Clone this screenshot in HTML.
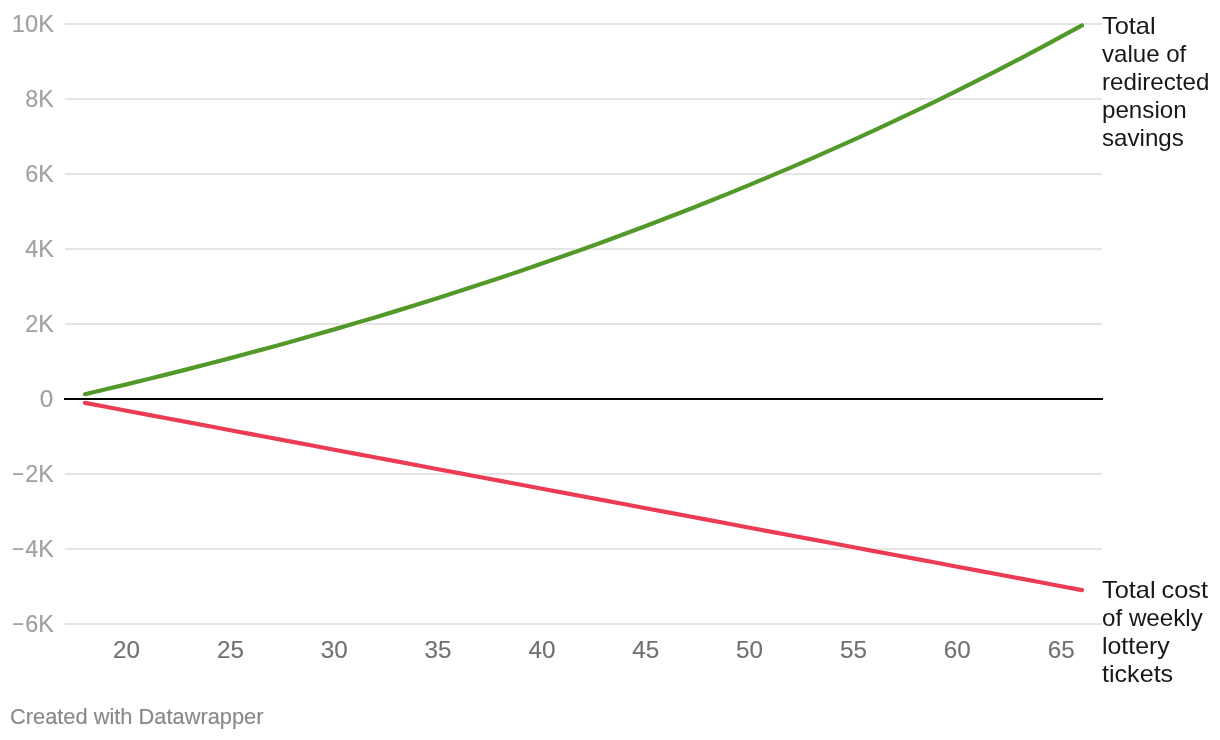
<!DOCTYPE html>
<html lang="en">
<head>
<meta charset="utf-8">
<title>Total value of redirected pension savings vs total cost of weekly lottery tickets</title>
<style>
html,body{margin:0;padding:0;background:#fff;}
body{width:1220px;height:740px;overflow:hidden;font-family:"Liberation Sans",sans-serif;}
svg{display:block;}
text{font-family:"Liberation Sans",sans-serif;font-size:24px;stroke-width:0.14px;}
.yl{fill:#a0a0a0;stroke:#a0a0a0;text-anchor:end;}
.xl{fill:#717171;stroke:#717171;text-anchor:middle;}
.lb{fill:#181818;}
.ft{fill:#888888;stroke:#888888;font-size:22px;}
</style>
</head>
<body>
<svg width="1220" height="740" viewBox="0 0 1220 740">
<rect width="1220" height="740" fill="#ffffff"/>
<g class="grid" stroke="#e4e4e4" stroke-width="2" shape-rendering="crispEdges">
<line x1="65" x2="1102" y1="24" y2="24"/>
<line x1="65" x2="1102" y1="99" y2="99"/>
<line x1="65" x2="1102" y1="174" y2="174"/>
<line x1="65" x2="1102" y1="249" y2="249"/>
<line x1="65" x2="1102" y1="324" y2="324"/>
<line x1="65" x2="1102" y1="474" y2="474"/>
<line x1="65" x2="1102" y1="549" y2="549"/>
<line x1="65" x2="1102" y1="624" y2="624"/>
</g>
<line x1="64" x2="1103" y1="399" y2="399" stroke="#000000" stroke-width="2" shape-rendering="crispEdges"/>
<g class="yaxis">
<text class="yl" x="53.9" y="31.8" textLength="42.05" lengthAdjust="spacingAndGlyphs">10K</text>
<text class="yl" x="53.9" y="106.8" textLength="28.55" lengthAdjust="spacingAndGlyphs">8K</text>
<text class="yl" x="53.9" y="181.8" textLength="28.55" lengthAdjust="spacingAndGlyphs">6K</text>
<text class="yl" x="53.9" y="256.8" textLength="28.55" lengthAdjust="spacingAndGlyphs">4K</text>
<text class="yl" x="53.9" y="331.8" textLength="28.55" lengthAdjust="spacingAndGlyphs">2K</text>
<text class="yl" x="53.2" y="406.8" textLength="13.5" lengthAdjust="spacingAndGlyphs">0</text>
<text class="yl" style="text-anchor:start" y="481.8"><tspan x="12" textLength="12" lengthAdjust="spacingAndGlyphs">−</tspan><tspan x="25.35" textLength="28.55" lengthAdjust="spacingAndGlyphs">2K</tspan></text>
<text class="yl" style="text-anchor:start" y="556.8"><tspan x="12" textLength="12" lengthAdjust="spacingAndGlyphs">−</tspan><tspan x="25.35" textLength="28.55" lengthAdjust="spacingAndGlyphs">4K</tspan></text>
<text class="yl" style="text-anchor:start" y="631.8"><tspan x="12" textLength="12" lengthAdjust="spacingAndGlyphs">−</tspan><tspan x="25.35" textLength="28.55" lengthAdjust="spacingAndGlyphs">6K</tspan></text>
</g>
<g class="xaxis">
<text class="xl" x="126.5" y="658" textLength="26.98" lengthAdjust="spacingAndGlyphs">20</text>
<text class="xl" x="230.4" y="658" textLength="26.98" lengthAdjust="spacingAndGlyphs">25</text>
<text class="xl" x="334.2" y="658" textLength="26.98" lengthAdjust="spacingAndGlyphs">30</text>
<text class="xl" x="438.1" y="658" textLength="26.98" lengthAdjust="spacingAndGlyphs">35</text>
<text class="xl" x="541.9" y="658" textLength="26.98" lengthAdjust="spacingAndGlyphs">40</text>
<text class="xl" x="645.8" y="658" textLength="26.98" lengthAdjust="spacingAndGlyphs">45</text>
<text class="xl" x="749.6" y="658" textLength="26.98" lengthAdjust="spacingAndGlyphs">50</text>
<text class="xl" x="853.5" y="658" textLength="26.98" lengthAdjust="spacingAndGlyphs">55</text>
<text class="xl" x="957.3" y="658" textLength="26.98" lengthAdjust="spacingAndGlyphs">60</text>
<text class="xl" x="1061.2" y="658" textLength="26.98" lengthAdjust="spacingAndGlyphs">65</text>
</g>
<g fill="none" stroke-linecap="round" stroke-linejoin="round">
<polyline points="85.00,402.90 105.77,406.80 126.54,410.70 147.31,414.60 168.08,418.50 188.85,422.40 209.62,426.30 230.39,430.20 251.16,434.10 271.93,438.00 292.70,441.90 313.47,445.80 334.24,449.70 355.01,453.60 375.78,457.50 396.55,461.40 417.32,465.30 438.09,469.20 458.86,473.10 479.63,477.00 500.40,480.90 521.17,484.80 541.94,488.70 562.71,492.60 583.48,496.50 604.25,500.40 625.02,504.30 645.79,508.20 666.56,512.10 687.33,516.00 708.10,519.90 728.87,523.80 749.64,527.70 770.41,531.60 791.18,535.50 811.95,539.40 832.72,543.30 853.49,547.20 874.26,551.10 895.03,555.00 915.80,558.90 936.57,562.80 957.34,566.70 978.11,570.60 998.88,574.50 1019.65,578.40 1040.42,582.30 1061.19,586.20 1081.96,590.10" stroke="#ffffff" stroke-width="5.6"/>
<polyline points="85.00,402.90 105.77,406.80 126.54,410.70 147.31,414.60 168.08,418.50 188.85,422.40 209.62,426.30 230.39,430.20 251.16,434.10 271.93,438.00 292.70,441.90 313.47,445.80 334.24,449.70 355.01,453.60 375.78,457.50 396.55,461.40 417.32,465.30 438.09,469.20 458.86,473.10 479.63,477.00 500.40,480.90 521.17,484.80 541.94,488.70 562.71,492.60 583.48,496.50 604.25,500.40 625.02,504.30 645.79,508.20 666.56,512.10 687.33,516.00 708.10,519.90 728.87,523.80 749.64,527.70 770.41,531.60 791.18,535.50 811.95,539.40 832.72,543.30 853.49,547.20 874.26,551.10 895.03,555.00 915.80,558.90 936.57,562.80 957.34,566.70 978.11,570.60 998.88,574.50 1019.65,578.40 1040.42,582.30 1061.19,586.20 1081.96,590.10" stroke="#ec3b55" stroke-width="4.2"/>
<polyline points="85.00,394.20 105.77,389.32 126.54,384.35 147.31,379.29 168.08,374.13 188.85,368.89 209.62,363.54 230.39,358.10 251.16,352.57 271.93,346.93 292.70,341.19 313.47,335.34 334.24,329.39 355.01,323.33 375.78,317.16 396.55,310.88 417.32,304.48 438.09,297.97 458.86,291.34 479.63,284.59 500.40,277.72 521.17,270.72 541.94,263.60 562.71,256.35 583.48,248.96 604.25,241.44 625.02,233.79 645.79,225.99 666.56,218.06 687.33,209.98 708.10,201.75 728.87,193.37 749.64,184.85 770.41,176.16 791.18,167.32 811.95,158.32 832.72,149.16 853.49,139.83 874.26,130.33 895.03,120.66 915.80,110.81 936.57,100.78 957.34,90.57 978.11,80.18 998.88,69.60 1019.65,58.82 1040.42,47.86 1061.19,36.69 1081.96,25.31" stroke="#ffffff" stroke-width="5.6"/>
<polyline points="85.00,394.20 105.77,389.32 126.54,384.35 147.31,379.29 168.08,374.13 188.85,368.89 209.62,363.54 230.39,358.10 251.16,352.57 271.93,346.93 292.70,341.19 313.47,335.34 334.24,329.39 355.01,323.33 375.78,317.16 396.55,310.88 417.32,304.48 438.09,297.97 458.86,291.34 479.63,284.59 500.40,277.72 521.17,270.72 541.94,263.60 562.71,256.35 583.48,248.96 604.25,241.44 625.02,233.79 645.79,225.99 666.56,218.06 687.33,209.98 708.10,201.75 728.87,193.37 749.64,184.85 770.41,176.16 791.18,167.32 811.95,158.32 832.72,149.16 853.49,139.83 874.26,130.33 895.03,120.66 915.80,110.81 936.57,100.78 957.34,90.57 978.11,80.18 998.88,69.60 1019.65,58.82 1040.42,47.86 1061.19,36.69 1081.96,25.31" stroke="#52992a" stroke-width="4.2"/>
</g>
<g class="labels">
<text class="lb" x="1102" y="34" textLength="53.59" lengthAdjust="spacingAndGlyphs">Total</text>
<text class="lb" x="1102" y="62" textLength="84.28" lengthAdjust="spacingAndGlyphs">value of</text>
<text class="lb" x="1102" y="90" textLength="107.33" lengthAdjust="spacingAndGlyphs">redirected</text>
<text class="lb" x="1102" y="118" textLength="84.62" lengthAdjust="spacingAndGlyphs">pension</text>
<text class="lb" x="1102" y="146" textLength="81.84" lengthAdjust="spacingAndGlyphs">savings</text>
<text class="lb" y="598"><tspan x="1102" textLength="53.59" lengthAdjust="spacingAndGlyphs">Total</tspan> <tspan x="1161.53" textLength="46.5" lengthAdjust="spacingAndGlyphs">cost</tspan></text>
<text class="lb" x="1102" y="626" textLength="100.83" lengthAdjust="spacingAndGlyphs">of weekly</text>
<text class="lb" x="1102" y="654" textLength="67.66" lengthAdjust="spacingAndGlyphs">lottery</text>
<text class="lb" x="1102" y="682" textLength="71.16" lengthAdjust="spacingAndGlyphs">tickets</text>
</g>
<text class="ft" x="10" y="724" textLength="253.52" lengthAdjust="spacingAndGlyphs">Created with Datawrapper</text>
</svg>
</body>
</html>
